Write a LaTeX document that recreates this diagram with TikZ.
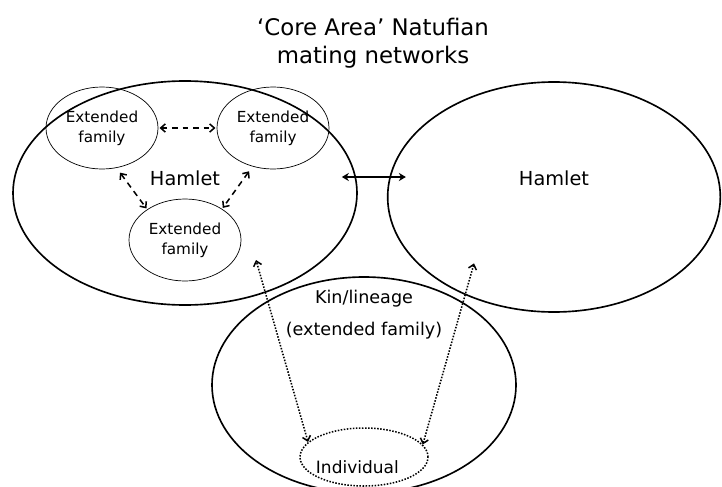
\documentclass[tikz,border=0pt]{standalone}
\usepackage{fontspec}
\setmainfont{DejaVu Sans}
\usetikzlibrary{shapes.geometric,positioning,arrows.meta}

\begin{document}
\begin{tikzpicture}[node distance=2cm,on grid,
  hamlet/.style={ellipse,draw,line width=1.4pt,inner sep=0pt},
  family/.style={ellipse,draw,line width=0.6pt,inner sep=0pt,align=center,
    minimum width=3.36cm,minimum height=2.46cm,font=\fontsize{13}{17}\selectfont},
  big text/.style={font=\fontsize{16.5}{20}\selectfont,align=center},
  dash arrow/.style={{Straight Barb[length=4pt,width=7pt]}-{Straight Barb[length=4pt,width=7pt]},
    line width=1.3pt,dash pattern=on 5pt off 4pt,shorten >=1pt,shorten <=1pt},
  dot arrow/.style={{Straight Barb[length=4pt,width=7pt]}-{Straight Barb[length=4pt,width=7pt]},
    line width=1.3pt,dash pattern=on 1.3pt off 1.3pt}]
  \useasboundingbox (0,0) rectangle (21.66,-14.58);
  \path
  node[big text,font=\fontsize{19.5}{24}\selectfont] (title) at (11.19,-1.3) {`Core Area' Natufian\\mating networks}
  node[hamlet,minimum width=10.32cm,minimum height=6.72cm] (ham_1) at (5.55,-5.79) {}
  node[hamlet,minimum width=9.98cm,minimum height=6.9cm] (ham_2) [below right=0.12cm and 11.07cm of ham_1] {}
  node[big text] (ham_1_txt) [above=0.45cm of ham_1] {Hamlet}
  node[big text] (ham_2_txt) [above=0.57cm of ham_2] {Hamlet}
  node[family] (fam_1) [above left=1.95cm and 2.49cm of ham_1] {Extended\\family}
  node[family] (fam_2) [right=5.13cm of fam_1] {Extended\\family}
  node[family] (fam_3) [below=1.41cm of ham_1] {Extended\\family}
  node[hamlet,minimum width=9.12cm,minimum height=6.48cm] (kin) at (10.92,-11.55) {}
  node[big text,font=\fontsize{15}{27}\selectfont] (kin_txt) [above=2.11cm of kin] {Kin/lineage\\(extended family)}
  node[ellipse,draw,line width=1.3pt,dash pattern=on 1.3pt off 1.3pt,minimum width=3.84cm,minimum height=1.74cm] (ind) [below=2.16cm of kin] {}
  node[big text,font=\fontsize{14.5}{20}\selectfont] (ind_txt) [below left=0.3cm and 0.2cm of ind] {Individual}
  ;
  \coordinate (ham_1_in) at (7.68,-7.8);
  \coordinate (ham_2_in) at (14.25,-7.8);
  \path[dash arrow]
  (fam_1) edge (fam_2)
  (fam_1.-70) edge[shorten <=5pt] (fam_3.141)
  (fam_2.-118) edge[shorten <=5pt] (fam_3.40)
  ;
  \draw[{Stealth[length=6pt,width=7pt]}-{Stealth[length=6pt,width=7pt]},line width=1.3pt]
  ([shift={(-0.48,0.48)}]ham_1.east) -- ([shift={(0.57,0.6)}]ham_2.west);
  \path[dot arrow]
  (ind.165) edge (ham_1_in)
  (ind.12) edge[shorten >=3pt] (ham_2_in)
  ;
\end{tikzpicture}
\end{document}
